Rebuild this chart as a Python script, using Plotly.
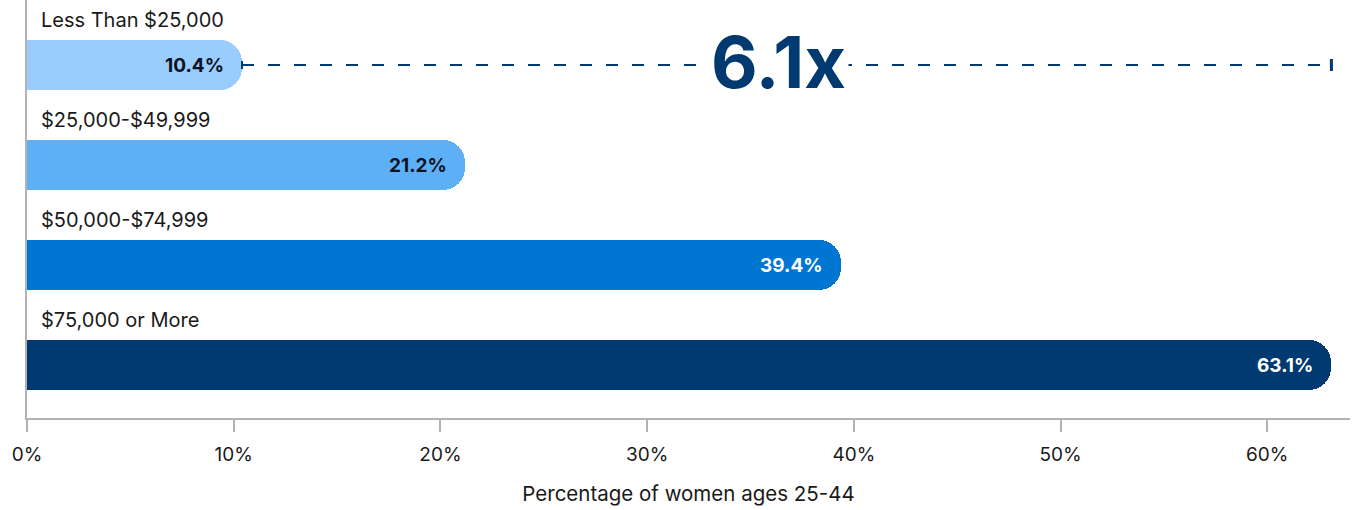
import plotly.graph_objects as go

# Household income brackets and share of women ages 25-44
categories = ["Less Than $25,000", "$25,000-$49,999", "$50,000-$74,999", "$75,000 or More"]
values = [10.4, 21.2, 39.4, 63.1]
bar_colors = ["#99CCFF", "#5EB0F6", "#0076D3", "#003A70"]
label_colors = ["#0B1320", "#0B1320", "#FFFFFF", "#FFFFFF"]
tick_vals = [0, 10, 20, 30, 40, 50, 60]
tick_text = [f"{t}%" for t in tick_vals]
ratio_label = "6.1x"

FONT = "Inter, Lato, sans-serif"
NAVY = "#003A70"
ypos = list(range(len(categories)))

fig = go.Figure()
fig.add_trace(go.Bar(
    x=values, y=ypos, orientation="h",
    marker=dict(color=bar_colors, cornerradius=22, line=dict(width=0)),
    width=0.5, hoverinfo="skip", showlegend=False,
))

annotations = []
for i, (cat, v) in enumerate(zip(categories, values)):
    # category name above each bar
    annotations.append(dict(
        x=0, y=i - 0.45, xref="x", yref="y", text=cat, showarrow=False,
        xanchor="left", yanchor="middle", xshift=12,
        font=dict(family=FONT, size=20, color="#1A1A1A"),
    ))
    # value inside the bar end
    annotations.append(dict(
        x=v, y=i, xref="x", yref="y", text=f"<b>{v:.1f}%</b>", showarrow=False,
        xanchor="right", yanchor="middle", xshift=-16,
        font=dict(family=FONT, size=19, color=label_colors[i]),
    ))

# ratio label between the smallest and largest bars
annotations.append(dict(
    x=(values[0] + values[-1]) / 2, y=0, xref="x", yref="y",
    text=f"<b>{ratio_label}</b>", showarrow=False, xanchor="center", yanchor="middle",
    bgcolor="white", borderpad=2, xshift=-8, yshift=4,
    font=dict(family=FONT, size=72, color=NAVY),
))

shapes = [
    dict(type="line", xref="x", yref="y", x0=values[0], x1=values[-1], y0=0, y1=0,
         line=dict(color=NAVY, width=2, dash="12px,14px"), layer="below"),
    dict(type="line", xref="x", yref="y", x0=values[-1], x1=values[-1], y0=-0.06, y1=0.06,
         line=dict(color=NAVY, width=3)),
    dict(type="line", xref="x", yref="y", x0=values[0], x1=values[0], y0=-0.04, y1=0.04,
         line=dict(color=NAVY, width=2)),
]

fig.update_layout(
    width=1353, height=510,
    margin=dict(l=27, r=3, t=0, b=92),
    plot_bgcolor="white", paper_bgcolor="white",
    annotations=annotations, shapes=shapes,
    bargap=0,
    xaxis=dict(
        range=[0, 64], tickmode="array", tickvals=tick_vals, ticktext=tick_text,
        showgrid=False, zeroline=False,
        showline=True, linecolor="#B3B3B3", linewidth=2,
        ticks="outside", ticklen=12, tickwidth=2, tickcolor="#B3B3B3",
        ticklabelstandoff=6,
        tickfont=dict(family=FONT, size=19, color="#1A1A1A"),
        title=dict(text="Percentage of women ages 25-44", standoff=22,
                   font=dict(family=FONT, size=20.5, color="#1A1A1A")),
    ),
    yaxis=dict(
        range=[3.53, -0.65], showticklabels=False, showgrid=False, zeroline=False,
        showline=True, linecolor="#B3B3B3", linewidth=2, ticks="",
    ),
)

fig.write_html("out.html")
